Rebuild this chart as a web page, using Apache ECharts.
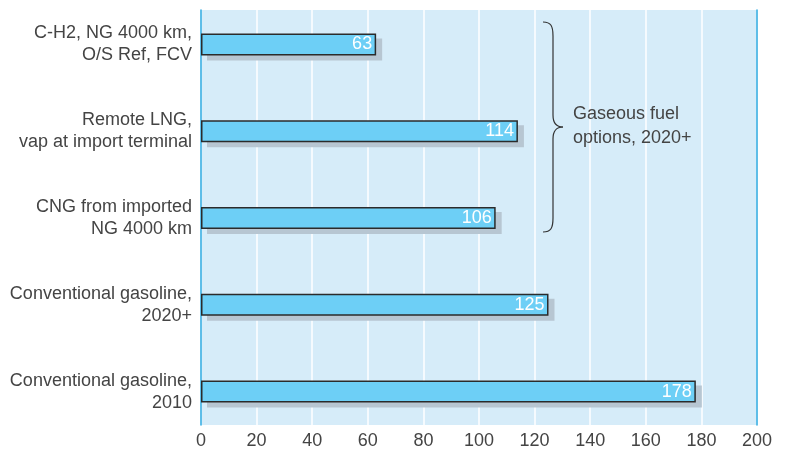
<!DOCTYPE html>
<html>
<head>
<meta charset="utf-8">
<script src="https://cdn.jsdelivr.net/npm/echarts@6/dist/echarts.min.js"></script>
<style>
  html, body { margin: 0; padding: 0; background: #fff; }
  #chart { width: 785px; height: 450px; }
</style>
</head>
<body>
<div id="chart"></div>
<script>
// categories top to bottom
const categories = [
  'C-H2, NG 4000 km,\nO/S Ref, FCV',
  'Remote LNG,\nvap at import terminal',
  'CNG from imported\nNG 4000 km',
  'Conventional gasoline,\n2020+',
  'Conventional gasoline,\n2010'
]
const values = [63, 114, 106, 125, 178]
const xTicks = [0, 20, 40, 60, 80, 100, 120, 140, 160, 180, 200]
const braceText = 'Gaseous fuel\noptions, 2020+'

const font = 'Liberation Sans'
const textColor = '#444'

let myChart = echarts.init(document.getElementById('chart'))

// brace for the gaseous group, built from curve pieces
const bx = 543, by0 = 22, by1 = 232, bm = 127
const braceStyle = { stroke: '#333', lineWidth: 1.2, fill: null }
const curve = (x1, y1, c1x, c1y, c2x, c2y, x2, y2) => ({
  type: 'bezierCurve', z: 10, style: braceStyle,
  shape: { x1: x1, y1: y1, cpx1: c1x, cpy1: c1y, cpx2: c2x, cpy2: c2y, x2: x2, y2: y2 }
})
const seg = (x1, y1, x2, y2) => ({
  type: 'line', z: 10, style: braceStyle, shape: { x1: x1, y1: y1, x2: x2, y2: y2 }
})
const brace = [
  curve(bx, by0, bx + 8, by0, bx + 10, by0 + 4, bx + 10, by0 + 14),
  seg(bx + 10, by0 + 14, bx + 10, bm - 12),
  curve(bx + 10, bm - 12, bx + 10, bm - 4, bx + 14, bm, bx + 20, bm),
  curve(bx + 20, bm, bx + 14, bm, bx + 10, bm + 4, bx + 10, bm + 12),
  seg(bx + 10, bm + 12, bx + 10, by1 - 14),
  curve(bx + 10, by1 - 14, bx + 10, by1 - 4, bx + 8, by1, bx, by1)
]

myChart.setOption({
  animation: false,
  textStyle: { fontFamily: font },
  grid: [
    // background / value axis grid
    { left: 201, right: 28, top: 10, bottom: 25, show: true, backgroundColor: '#d6ecf9', borderWidth: 0 },
    // bars grid
    { left: 201, right: 28, top: 1, bottom: 15 },
    // drop shadow grid, shifted right and down
    { left: 207, right: 22, top: 6, bottom: 10 }
  ],
  xAxis: [
    {
      gridIndex: 0, type: 'value', min: xTicks[0], max: xTicks[xTicks.length - 1], interval: 20,
      axisLine: { show: false }, axisTick: { show: false },
      splitLine: { show: true, lineStyle: { color: '#fff', width: 1.5 } },
      axisLabel: { color: textColor, fontSize: 18, margin: 7, fontFamily: font }
    },
    { gridIndex: 1, type: 'value', min: 0, max: 200, show: false },
    { gridIndex: 2, type: 'value', min: 0, max: 200, show: false }
  ],
  yAxis: [
    {
      gridIndex: 0, type: 'value', position: 'left', min: 0, max: 1,
      axisLabel: { show: false }, axisTick: { show: false }, splitLine: { show: false },
      axisLine: { show: true, lineStyle: { color: '#2aa9e0', width: 1.5 } }
    },
    {
      gridIndex: 0, type: 'value', position: 'right', min: 0, max: 1,
      axisLabel: { show: false }, axisTick: { show: false }, splitLine: { show: false },
      axisLine: { show: true, lineStyle: { color: '#2aa9e0', width: 1.5 } }
    },
    {
      gridIndex: 1, type: 'category', data: categories, inverse: true,
      axisLine: { show: false }, axisTick: { show: false }, splitLine: { show: false },
      axisLabel: { color: textColor, fontSize: 18, lineHeight: 22, margin: 9, align: 'right', fontFamily: font }
    },
    { gridIndex: 2, type: 'category', data: categories, inverse: true, show: false }
  ],
  series: [
    {
      // shadow
      type: 'bar',
      xAxisIndex: 2,
      yAxisIndex: 3,
      data: values,
      barWidth: 22,
      z: 2,
      silent: true,
      itemStyle: { color: '#b7c6d2' }
    },
    {
      type: 'bar',
      xAxisIndex: 1,
      yAxisIndex: 2,
      data: values,
      barWidth: 22,
      z: 3,
      itemStyle: {
        color: '#6dcff6',
        borderColor: '#2b2b2b',
        borderWidth: 1.5
      },
      label: {
        show: true,
        position: 'insideRight',
        distance: 4,
        color: '#fff',
        fontSize: 18,
        fontFamily: font
      }
    }
  ],
  graphic: brace.concat([
    {
      type: 'text',
      left: 573,
      top: 102,
      z: 10,
      style: { text: braceText, fill: textColor, font: '18px ' + font, lineHeight: 24 }
    }
  ])
})
</script>
</body>
</html>
